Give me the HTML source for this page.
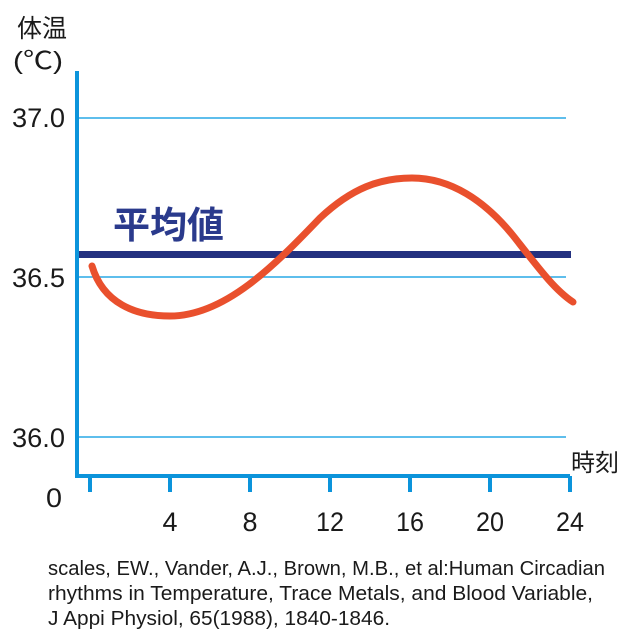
<!DOCTYPE html>
<html><head><meta charset="utf-8"><style>
html,body{margin:0;padding:0;background:#fff;width:640px;height:633px;overflow:hidden}
svg{display:block}
text{font-family:"Liberation Sans","Noto Sans CJK JP",sans-serif;fill:#1a1a1a}
</style></head><body>
<svg width="640" height="633" viewBox="0 0 640 633">
<text x="17" y="37" font-size="25">体温</text>
<text x="13" y="69" font-size="25" textLength="50" lengthAdjust="spacingAndGlyphs">(℃)</text>
<g stroke="#29a9e6" stroke-width="1.5">
<line x1="79" y1="118" x2="566" y2="118"/>
<line x1="79" y1="277" x2="566" y2="277"/>
<line x1="79" y1="437" x2="566" y2="437"/>
</g>
<g stroke="#0c94db" stroke-width="4" fill="none">
<line x1="77" y1="71" x2="77" y2="478"/>
<line x1="75" y1="476" x2="570" y2="476"/>
<line x1="90" y1="476" x2="90" y2="492"/>
<line x1="170" y1="476" x2="170" y2="492"/>
<line x1="250" y1="476" x2="250" y2="492"/>
<line x1="330" y1="476" x2="330" y2="492"/>
<line x1="410" y1="476" x2="410" y2="492"/>
<line x1="490" y1="476" x2="490" y2="492"/>
<line x1="570" y1="476" x2="570" y2="492"/>
</g>
<g font-size="27">
<text x="12" y="127" textLength="53" lengthAdjust="spacingAndGlyphs">37.0</text>
<text x="12" y="287" textLength="53" lengthAdjust="spacingAndGlyphs">36.5</text>
<text x="12" y="447" textLength="53" lengthAdjust="spacingAndGlyphs">36.0</text>
<text x="46" y="507" textLength="16" lengthAdjust="spacingAndGlyphs">0</text>
<g text-anchor="middle">
<text x="170" y="531">4</text>
<text x="250" y="531">8</text>
<text x="330" y="531" textLength="28" lengthAdjust="spacingAndGlyphs">12</text>
<text x="410" y="531" textLength="28" lengthAdjust="spacingAndGlyphs">16</text>
<text x="490" y="531" textLength="28" lengthAdjust="spacingAndGlyphs">20</text>
<text x="570" y="531" textLength="28" lengthAdjust="spacingAndGlyphs">24</text>
</g>
<text x="571" y="471" font-size="24">時刻</text>
</g>
<text x="113" y="238" font-size="37" font-weight="bold" style="fill:#2a3a8c">平均値</text>
<rect x="79" y="251" width="492" height="7" fill="#233180"/>
<path d="M92,266 C103,303 135,316 170,316 C225,316 275,265 320,218 C352,188 380,178 412,178 C450,178 485,200 515,238 C540,270 555,290 573,302" fill="none" stroke="#e9502d" stroke-width="7" stroke-linecap="round"/>
<g font-size="20">
<text x="48" y="575" textLength="557" lengthAdjust="spacingAndGlyphs">scales, EW., Vander, A.J., Brown, M.B., et al:Human Circadian</text>
<text x="48" y="600" textLength="545" lengthAdjust="spacingAndGlyphs">rhythms in Temperature, Trace Metals, and Blood Variable,</text>
<text x="48" y="625" textLength="342" lengthAdjust="spacingAndGlyphs">J Appi Physiol, 65(1988), 1840-1846.</text>
</g>
</svg>
</body></html>
